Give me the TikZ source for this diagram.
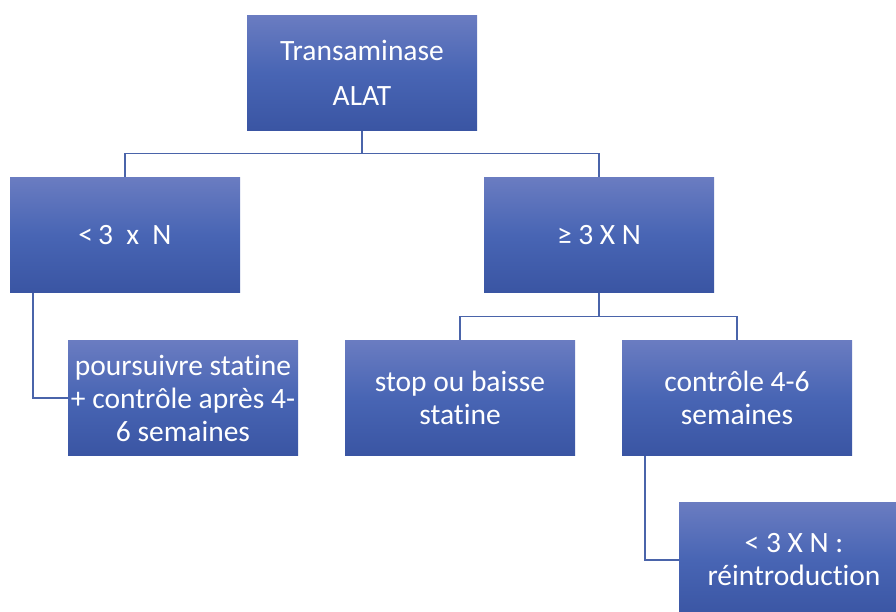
\documentclass[tikz,border=0pt]{standalone}
\usepackage{fontspec}
\setmainfont{Carlito}[Ligatures=NoCommon]
\definecolor{boxtop}{RGB}{106,124,193}
\definecolor{boxmid}{RGB}{72,101,180}
\definecolor{boxbot}{RGB}{58,85,163}
\definecolor{linkcol}{RGB}{74,100,170}
\tikzset{
    box/.style={rectangle, minimum width=230pt, minimum height=115pt, inner sep=0pt,
        top color=boxtop, bottom color=boxbot, middle color=boxmid,
        text=white, align=center, font=\fontsize{29.5}{33}\selectfont},
    link/.style={draw=linkcol, line width=1.4pt}
}
\begin{document}
\begin{tikzpicture}[x=1pt, y=-1pt]
    \useasboundingbox (0,0) rectangle (896,612);
    \clip (0,0) rectangle (896,612);
    \node[box] (alat) at (362,73) {Transaminase\\[12pt]ALAT};
    \node[box] (low) at (125,235) {<\,3 \ x \ N};
    \node[box] (high) at (599,235) {≥ 3 X N};
    \node[box] (keep) at (183,398) {poursuivre statine\\+ contrôle après 4-\\6 semaines};
    \node[box] (stop) at (460,398) {stop ou baisse\\statine};
    \node[box] (check) at (737,398) {contrôle 4-6\\semaines};
    \node[box] (back) at (794,560) {< 3 X N :\\réintroduction};
    \draw [link] (alat.south) -- +(0,23) -| (low.north);
    \draw [link] (alat.south) -- +(0,23) -| (high.north);
    \draw [link] (high.south) -- +(0,24) -| (stop.north);
    \draw [link] (high.south) -- +(0,24) -| (check.north);
    \draw [link] ([xshift=23pt]low.south west) |- (keep.west);
    \draw [link] ([xshift=23pt]check.south west) |- (back.west);
\end{tikzpicture}
\end{document}
